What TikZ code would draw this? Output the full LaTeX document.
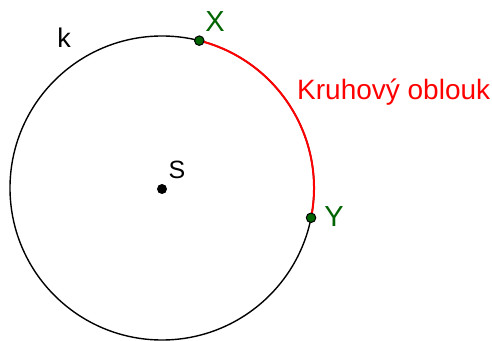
\documentclass[tikz,border=0pt]{standalone}
\usepackage{fontspec}
\setmainfont{Liberation Sans}
\usetikzlibrary{calc}
\definecolor{ptgreen}{RGB}{0,100,0}
\definecolor{arcred}{RGB}{255,0,0}
\tikzset{
  lbl/.style={inner sep=0pt, font=\fontsize{27}{31}\selectfont},
  ptdot/.style={circle, fill=ptgreen, draw=black, line width=1pt, inner sep=0pt, minimum size=9.5pt},
  cdot/.style={circle, fill=black, inner sep=0pt, minimum size=10pt}
}
\begin{document}
\begin{tikzpicture}[x=1pt,y=1pt]
\useasboundingbox (0,0) rectangle (492,340);
\coordinate (S) at (162,152);
\coordinate (X) at ($(S)+(75.8:152)$);
\coordinate (Y) at ($(S)+(-11.3:152)$);
\draw[black, line width=1.4pt] (S) circle[radius=152];
\draw[arcred, line width=2pt] (X) arc[start angle=75.8, end angle=-11.3, radius=152];
\node[cdot] (Sdot) at (162,151) {};
\node[ptdot] (Xdot) at (X) {};
\node[ptdot] (Ydot) at (Y) {};
\node[lbl] (klbl) at (64,302) {k};
\node[lbl, text=ptgreen, font=\fontsize{29}{33}\selectfont] (Xlbl) at (215,318) {X};
\node[lbl, text=ptgreen, font=\fontsize{29}{33}\selectfont] (Ylbl) at (334,123) {Y};
\node[lbl, font=\fontsize{25}{29}\selectfont] (Slbl) at (177,170) {S};
\node[lbl, text=arcred, anchor=base west, font=\fontsize{28}{32}\selectfont] (arclbl) at (297,240) {Kruhový oblouk};
\end{tikzpicture}
\end{document}
